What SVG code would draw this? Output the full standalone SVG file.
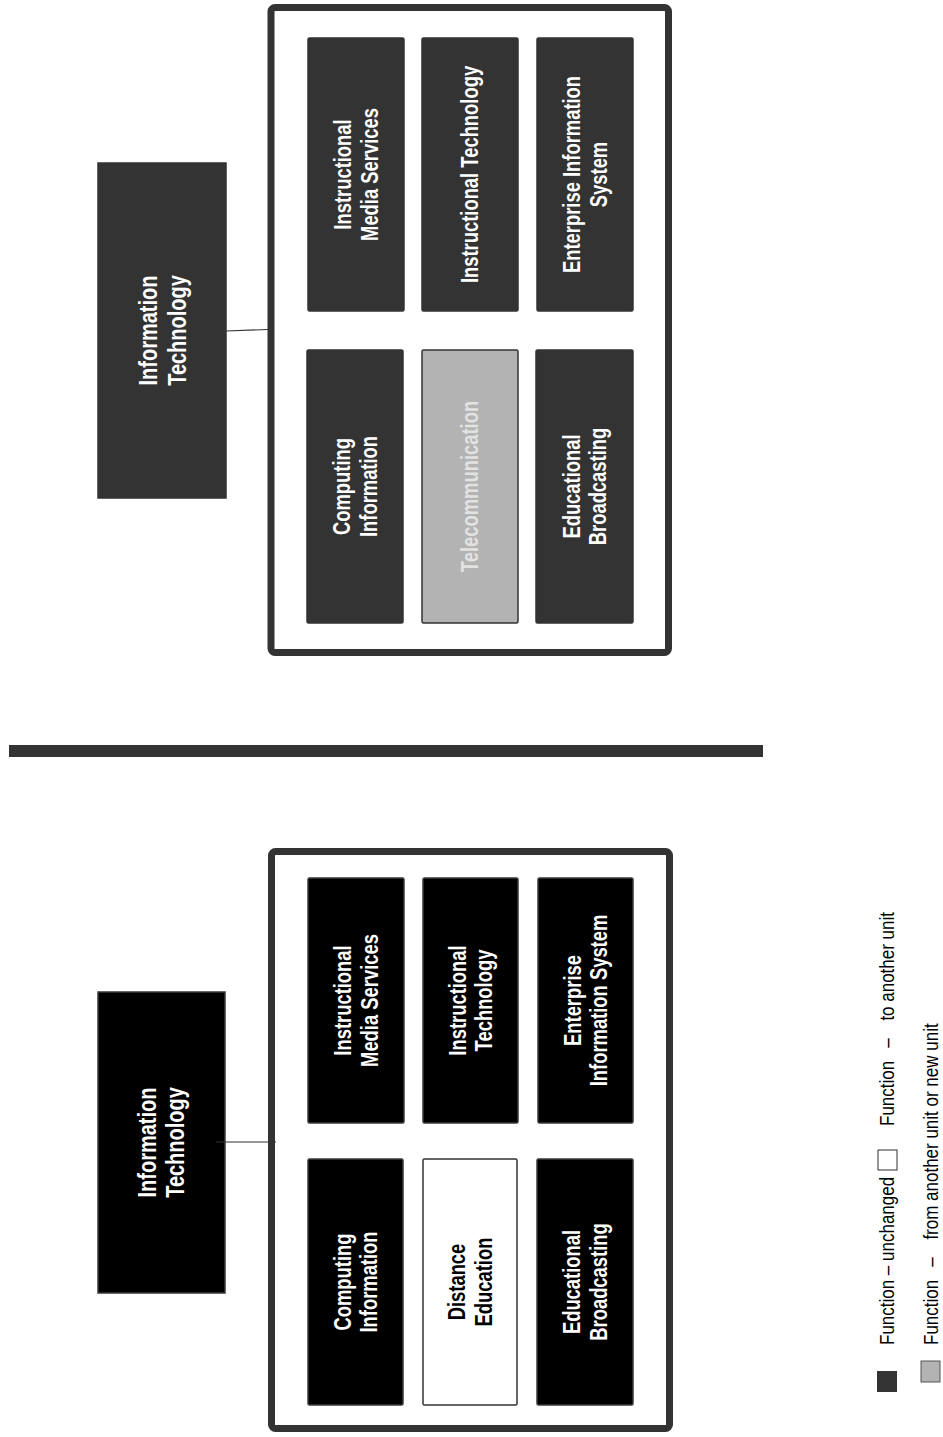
<svg xmlns="http://www.w3.org/2000/svg" width="943" height="1437" viewBox="0 0 943 1437">
  <style>
    .frame { fill: #ffffff; stroke: #333333; stroke-width: 7; }
    .unit-old { fill: #333333; stroke: #333333; stroke-width: 1.5; }
    .unit-new { fill: #000000; stroke: #3a3a3a; stroke-width: 1.5; }
    .unit-in { fill: #b3b3b3; stroke: #333333; stroke-width: 1.5; }
    .unit-out { fill: #ffffff; stroke: #333333; stroke-width: 1.5; }
    .lbl { font-family: "Liberation Sans", Arial, sans-serif; font-size: 23px; font-weight: bold; fill: #ffffff; text-anchor: middle; }
    .head { font-size: 25px; }
    .dim { fill: #e2e2e2; }
    .dark { fill: #000000; }
    .link { stroke: #333333; stroke-width: 1.2; fill: none; }
    .key { font-family: "Liberation Sans", Arial, sans-serif; font-size: 20px; fill: #000000; }
  </style>

  <!-- ===== Upper chart ===== -->
  <g id="upper-it">
    <rect class="unit-old" x="98" y="163" width="128" height="335"/>
    <text class="lbl head" transform="translate(162,330.5) rotate(-90) scale(0.8,1)"><tspan x="0" y="-5">Information</tspan><tspan x="0" y="24">Technology</tspan></text>
  </g>

  <g id="upper-frame">
    <rect class="frame" x="271" y="7.5" width="397.5" height="645" rx="4"/>
  </g>

  <g id="upper-ims">
    <rect class="unit-old" x="308" y="38" width="96" height="273" rx="1.5"/>
    <text class="lbl" transform="translate(356,174.5) rotate(-90) scale(0.8,1)"><tspan x="0" y="-5">Instructional</tspan><tspan x="0" y="22">Media Services</tspan></text>
  </g>
  <g id="upper-itech">
    <rect class="unit-old" x="422" y="38" width="96" height="273" rx="1.5"/>
    <text class="lbl" transform="translate(470,174.5) rotate(-90) scale(0.8,1)"><tspan x="0" y="8">Instructional Technology</tspan></text>
  </g>
  <g id="upper-eis">
    <rect class="unit-old" x="537" y="38" width="96" height="273" rx="1.5"/>
    <text class="lbl" transform="translate(585,174.5) rotate(-90) scale(0.8,1)"><tspan x="0" y="-5">Enterprise Information</tspan><tspan x="0" y="22">System</tspan></text>
  </g>
  <g id="upper-ci">
    <rect class="unit-old" x="307" y="350" width="96" height="273" rx="1.5"/>
    <text class="lbl" transform="translate(355,486.5) rotate(-90) scale(0.8,1)"><tspan x="0" y="-5">Computing</tspan><tspan x="0" y="22">Information</tspan></text>
  </g>
  <g id="upper-telecom">
    <rect class="unit-in" x="422" y="350" width="96" height="273" rx="1.5"/>
    <text class="lbl dim" transform="translate(470,486.5) rotate(-90) scale(0.8,1)"><tspan x="0" y="8">Telecommunication</tspan></text>
  </g>
  <g id="upper-eb">
    <rect class="unit-old" x="536" y="350" width="97" height="273" rx="1.5"/>
    <text class="lbl" transform="translate(584.5,486.5) rotate(-90) scale(0.8,1)"><tspan x="0" y="-5">Educational</tspan><tspan x="0" y="22">Broadcasting</tspan></text>
  </g>

  <!-- separator between the two charts -->
  <rect id="divider" x="9" y="745" width="754" height="12" fill="#333333"/>

  <!-- ===== Lower chart ===== -->
  <g id="lower-it">
    <rect class="unit-new" x="98" y="992" width="127" height="301"/>
    <text class="lbl head" transform="translate(161.5,1142.5) rotate(-90) scale(0.8,1)"><tspan x="0" y="-6">Information</tspan><tspan x="0" y="23">Technology</tspan></text>
  </g>

  <g id="lower-frame">
    <rect class="frame" x="271.5" y="851.5" width="398" height="577" rx="4"/>
  </g>

  <g id="lower-ims">
    <rect class="unit-new" x="308" y="878" width="96" height="245" rx="1.5"/>
    <text class="lbl" transform="translate(356,1000.5) rotate(-90) scale(0.8,1)"><tspan x="0" y="-5">Instructional</tspan><tspan x="0" y="22">Media Services</tspan></text>
  </g>
  <g id="lower-itech">
    <rect class="unit-new" x="423" y="878" width="95" height="245" rx="1.5"/>
    <text class="lbl" transform="translate(470.5,1000.5) rotate(-90) scale(0.8,1)"><tspan x="0" y="-5">Instructional</tspan><tspan x="0" y="22">Technology</tspan></text>
  </g>
  <g id="lower-eis">
    <rect class="unit-new" x="538" y="878" width="95" height="245" rx="1.5"/>
    <text class="lbl" transform="translate(585.5,1000.5) rotate(-90) scale(0.8,1)"><tspan x="0" y="-5">Enterprise</tspan><tspan x="0" y="22">Information System</tspan></text>
  </g>
  <g id="lower-ci">
    <rect class="unit-new" x="308" y="1159" width="95" height="246" rx="1.5"/>
    <text class="lbl" transform="translate(355.5,1282) rotate(-90) scale(0.8,1)"><tspan x="0" y="-5">Computing</tspan><tspan x="0" y="22">Information</tspan></text>
  </g>
  <g id="lower-de">
    <rect class="unit-out" x="423" y="1159" width="94" height="246" rx="1.5"/>
    <text class="lbl dark" transform="translate(470,1282) rotate(-90) scale(0.8,1)"><tspan x="0" y="-5">Distance</tspan><tspan x="0" y="22">Education</tspan></text>
  </g>
  <g id="lower-eb">
    <rect class="unit-new" x="537" y="1159" width="96" height="246" rx="1.5"/>
    <text class="lbl" transform="translate(585,1282) rotate(-90) scale(0.8,1)"><tspan x="0" y="-5">Educational</tspan><tspan x="0" y="22">Broadcasting</tspan></text>
  </g>

  <!-- connectors from the IT units to their frames -->
  <g id="connectors">
    <line class="link" x1="226" y1="331" x2="268" y2="329.5"/>
    <line class="link" x1="216" y1="1142" x2="276" y2="1142"/>
  </g>

  <!-- key: text runs upward, local x follows the reading direction -->
  <g id="legend">
    <rect x="877" y="1371" width="20" height="21" fill="#333333"/>
    <text class="key" transform="translate(894,1345) rotate(-90) scale(0.85,1)">Function – unchanged</text>
    <rect x="878" y="1150" width="19" height="20" fill="#ffffff" stroke="#333333" stroke-width="1"/>
    <text class="key" transform="translate(894,1126) rotate(-90) scale(0.85,1)"><tspan x="0">Function</tspan><tspan x="92">–</tspan><tspan x="124">to another unit</tspan></text>
    <rect x="921" y="1361" width="19" height="21" fill="#b3b3b3" stroke="#555555" stroke-width="1"/>
    <text class="key" transform="translate(938,1345) rotate(-90) scale(0.85,1)"><tspan x="0">Function</tspan><tspan x="92">–</tspan><tspan x="124">from another unit or new unit</tspan></text>
  </g>
</svg>
